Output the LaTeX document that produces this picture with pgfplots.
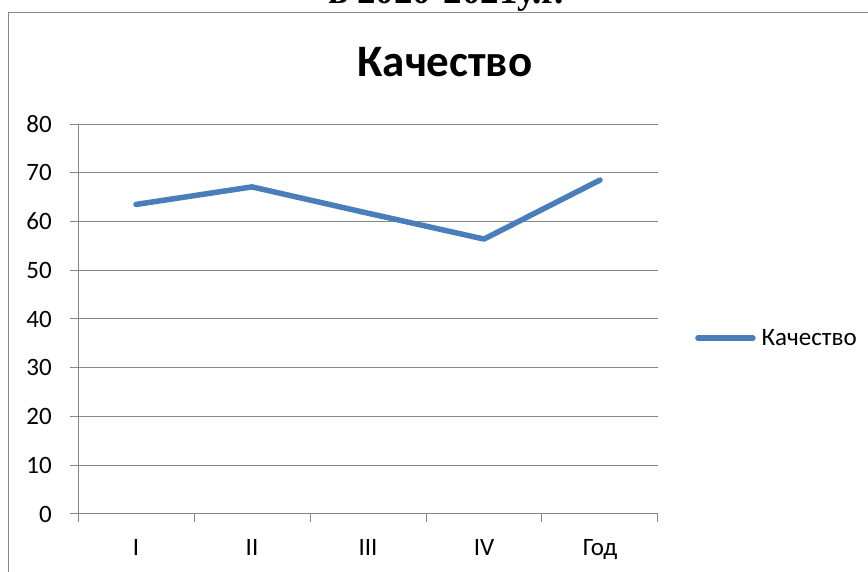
\documentclass[border=0pt]{standalone}
\usepackage{pgfplots}
\pgfplotsset{compat=1.18}
\usepackage{fontspec}
\setmainfont{Carlito}
\newfontfamily\serifb{Liberation Serif}
\definecolor{linecol}{HTML}{4A7EBB}
\definecolor{gridcol}{HTML}{868686}
\begin{document}
\begin{tikzpicture}[x=1pt,y=1pt]
\useasboundingbox (0,0) rectangle (868,572);
\clip (0,0) rectangle (868,572);
\node[anchor=base, inner sep=0pt, font=\serifb\bfseries\fontsize{37}{40}\selectfont] at (446,568) {в 2020-2021у.г.};
\draw[gridcol, line width=1.5pt] (8.5,-5) -- (8.5,559.5) -- (880,559.5);
\node[anchor=base, inner sep=0pt, font=\bfseries\fontsize{45}{50}\selectfont] at (445,495) {Качество};
\begin{axis}[at={(78pt,58pt)}, anchor=south west, scale only axis,
  width=580pt, height=390pt,
  xmin=-0.5, xmax=4.5, ymin=0, ymax=80,
  axis lines=left, axis line style={-, draw=gridcol, line width=1pt},
  tick align=outside, major tick length=8pt,
  tick style={draw=gridcol, line width=1pt},
  xtick={-0.5,0.5,1.5,2.5,3.5,4.5}, xticklabels={},
  extra x ticks={0,1,2,3,4},
  extra x tick labels={I,II,III,IV,Год},
  extra x tick style={major tick style={draw=none}, grid=none},
  ytick={0,10,...,80},
  ymajorgrids, grid style={draw=gridcol, line width=1pt},
  /pgf/number format/assume math mode=true,
  tick label style={font=\fontsize{25}{29}\selectfont, inner sep=0pt},
  xticklabel style={anchor=base, yshift=-34pt},
  yticklabel style={anchor=east, xshift=-18pt},
  legend style={at={(axis description cs:1.0638,0.451)}, anchor=west,
    draw=none, fill=none, inner sep=0pt, font=\fontsize{25}{29}\selectfont,
    nodes={inner sep=0pt}, /tikz/every odd column/.append style={column sep=6pt}},
  legend image code/.code={\draw[#1, line cap=round] (0pt,0pt) -- (55pt,0pt);},
  clip=false,
]
\addplot[linecol, line width=5.5pt, line join=round, line cap=round]
  coordinates {(0,63.5)(1,67.1)(2,61.7)(3,56.4)(4,68.5)};
\addlegendentry{Качество}
\end{axis}
\end{tikzpicture}
\end{document}
